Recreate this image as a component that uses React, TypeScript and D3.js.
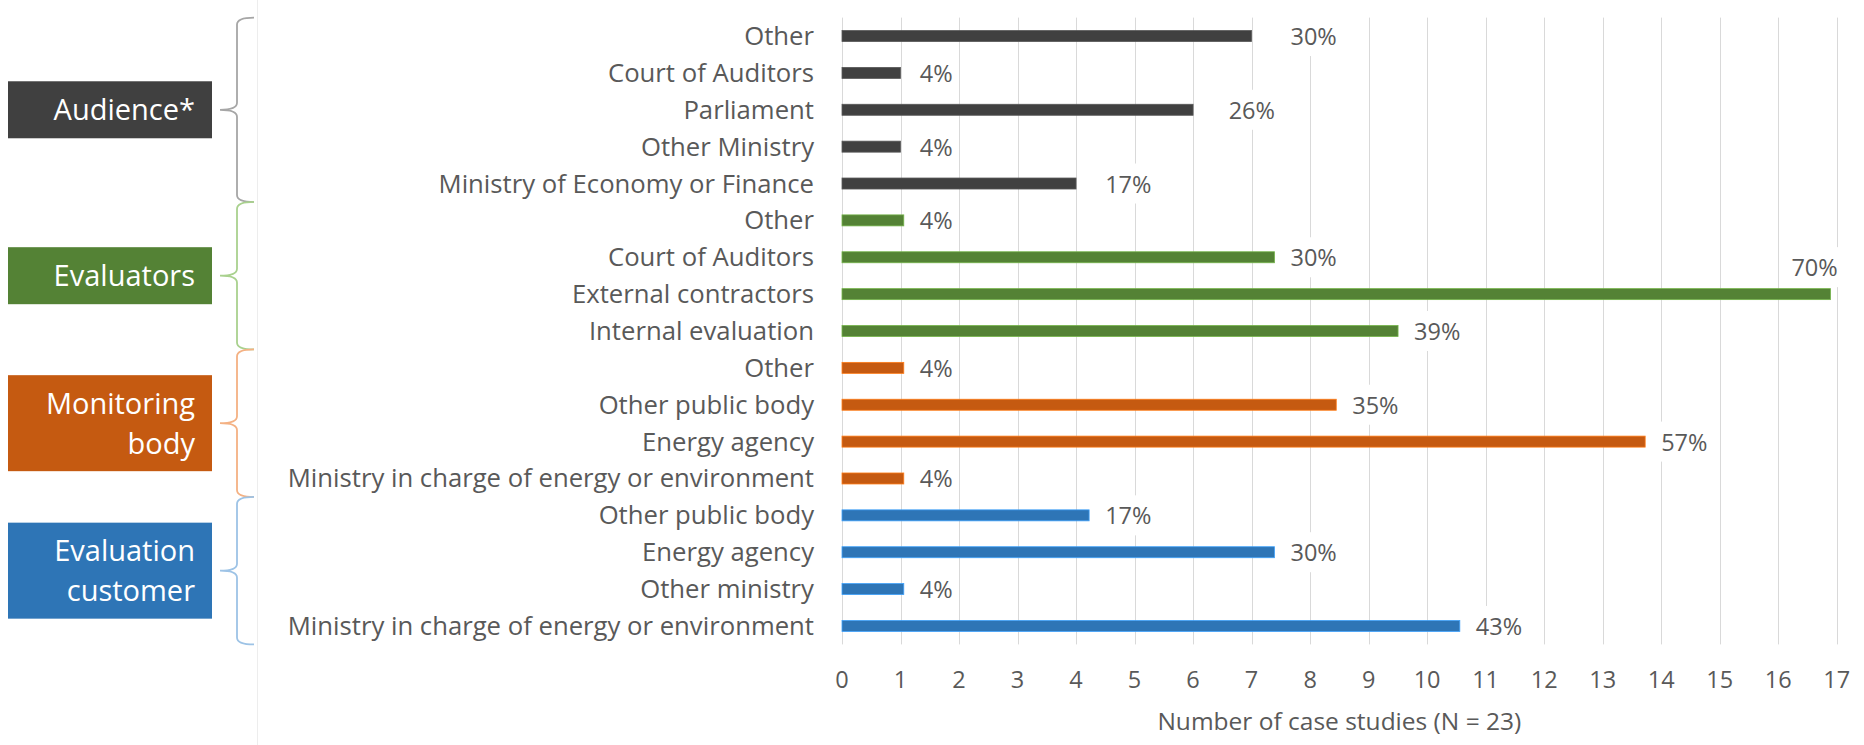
import { useEffect, useRef } from 'react'
import * as d3 from 'd3'

// groups, top to bottom
const groupTitles = [['Audience*'], ['Evaluators'], ['Monitoring', 'body'], ['Evaluation', 'customer']]
const groupColors = ['#404040', '#548235', '#c55a11', '#2e75b6']
const braceColors = ['#a6a6a6', '#a9d18e', '#f4b183', '#9dc3e6']

const audienceLabels = ['Other', 'Court of Auditors', 'Parliament', 'Other Ministry', 'Ministry of Economy or Finance']
const audienceCounts = [7, 1, 6, 1, 4]
const audiencePct = ['30%', '4%', '26%', '4%', '17%']

const evaluatorLabels = ['Other', 'Court of Auditors', 'External contractors', 'Internal evaluation']
const evaluatorCounts = [1, 7, 16, 9]
const evaluatorPct = ['4%', '30%', '70%', '39%']

const monitoringLabels = ['Other', 'Other public body', 'Energy agency', 'Ministry in charge of energy or environment']
const monitoringCounts = [1, 8, 13, 1]
const monitoringPct = ['4%', '35%', '57%', '4%']

const customerLabels = ['Other public body', 'Energy agency', 'Other ministry', 'Ministry in charge of energy or environment']
const customerCounts = [4, 7, 1, 10]
const customerPct = ['17%', '30%', '4%', '43%']

const xMax = 17
// coloured series sit on a secondary axis that is a bit shorter
const xSecondaryMax = 16.1
const axisTitle = 'Number of case studies (N = 23)'

const FONT = "'Open Sans', sans-serif"
const TEXT = '#595959'

export default function App() {
  const svgRef = useRef<SVGSVGElement>(null)

  useEffect(() => {
    if (!svgRef.current) return
    const svg = d3.select(svgRef.current)
    svg.selectAll('*').remove()

    const groups = [
      { labels: audienceLabels, counts: audienceCounts, pct: audiencePct },
      { labels: evaluatorLabels, counts: evaluatorCounts, pct: evaluatorPct },
      { labels: monitoringLabels, counts: monitoringCounts, pct: monitoringPct },
      { labels: customerLabels, counts: customerCounts, pct: customerPct },
    ]
    const rows = groups.flatMap((g, gi) =>
      g.labels.map((label, i) => ({ id: `${gi}-${i}`, gi, label, count: g.counts[i], pct: g.pct[i] }))
    )

    const plot = { left: 842, right: 1836.7, top: 17.6, bottom: 644.4 }

    const x = d3.scaleLinear().domain([0, xMax]).range([plot.left, plot.right])
    const xSec = d3.scaleLinear().domain([0, xSecondaryMax]).range([plot.left, plot.right])
    const y = d3.scaleBand().domain(rows.map(r => r.id)).range([plot.top, plot.bottom])
    const barH = 11

    // chart frame edge
    svg.append('line')
      .attr('x1', 257.5).attr('x2', 257.5).attr('y1', 0).attr('y2', 745)
      .attr('stroke', '#ededed').attr('stroke-width', 1)

    // gridlines
    const ticks = d3.range(0, xMax + 1)
    svg.append('g')
      .selectAll('line')
      .data(ticks)
      .enter().append('line')
      .attr('x1', d => Math.round(x(d)) + 0.5)
      .attr('x2', d => Math.round(x(d)) + 0.5)
      .attr('y1', plot.top)
      .attr('y2', plot.bottom)
      .attr('stroke', '#d9d9d9')
      .attr('stroke-width', 1)

    // tick labels
    svg.append('g')
      .selectAll('text')
      .data(ticks)
      .enter().append('text')
      .attr('x', d => x(d))
      .attr('y', 688)
      .attr('text-anchor', 'middle')
      .style('font-family', FONT)
      .style('font-size', '23.5px')
      .style('fill', TEXT)
      .text(d => d)

    svg.append('text')
      .attr('x', (plot.left + plot.right) / 2)
      .attr('y', 730)
      .attr('text-anchor', 'middle')
      .style('font-family', FONT)
      .style('font-size', '24.5px')
      .style('fill', TEXT)
      .text(axisTitle)

    // category labels
    svg.append('g')
      .selectAll('text')
      .data(rows)
      .enter().append('text')
      .attr('x', 814)
      .attr('y', d => (y(d.id) as number) + y.bandwidth() / 2 + 9)
      .attr('text-anchor', 'end')
      .style('font-family', FONT)
      .style('font-size', '25.7px')
      .style('fill', TEXT)
      .text(d => d.label)

    // bars
    svg.append('g')
      .selectAll('rect')
      .data(rows)
      .enter().append('rect')
      .attr('x', plot.left)
      .attr('y', d => (y(d.id) as number) + y.bandwidth() / 2 - barH / 2)
      .attr('width', d => (d.gi === 0 ? x(d.count) : xSec(d.count)) - plot.left)
      .attr('height', barH)
      .attr('fill', d => groupColors[d.gi])
      .attr('stroke', d => d3.color(groupColors[d.gi])!.brighter(0.9).formatHex())
      .attr('stroke-width', 0.8)

    // percentage labels with white backing
    const lab = svg.append('g')
    rows.forEach(d => {
      const cy = (y(d.id) as number) + y.bandwidth() / 2
      const g = lab.append('g')
      const bg = g.append('rect').attr('fill', '#fff')
      const t = g.append('text')
        .attr('y', cy + 9)
        .style('font-family', FONT)
        .style('font-size', '23.5px')
        .style('fill', TEXT)
        .text(d.pct)
      const tw = (t.node() as SVGTextElement).getComputedTextLength()
      let tx = xSec(d.count) + 16
      let ty = cy
      if (tx + tw > plot.right) {
        // no room at the end: lift it above the bar
        tx = plot.right + 1 - tw
        ty = cy - 27
        t.attr('y', ty + 9)
      }
      t.attr('x', tx)
      bg.attr('x', tx - 6).attr('y', ty - 20).attr('width', tw + 12).attr('height', 40)
    })

    // group boxes and braces
    groups.forEach((g, gi) => {
      const first = `${gi}-0`
      const last = `${gi}-${g.labels.length - 1}`
      const top = y(first) as number
      const bottom = (y(last) as number) + y.bandwidth()
      const mid = (top + bottom) / 2

      const lines = groupTitles[gi]
      const boxH = 18 + 39 * lines.length
      svg.append('rect')
        .attr('x', 8)
        .attr('y', mid - boxH / 2)
        .attr('width', 204)
        .attr('height', boxH)
        .attr('fill', groupColors[gi])

      lines.forEach((line, li) => {
        svg.append('text')
          .attr('x', 195)
          .attr('y', mid - (lines.length - 1) * 20 + li * 40 + 10.5)
          .attr('text-anchor', 'end')
          .style('font-family', FONT)
          .style('font-size', '29px')
          .style('fill', '#fff')
          .text(line)
      })

      const xv = 237
      const xe = 254
      const xt = 220
      const r = 7
      const path = `M${xe},${top} Q${xv},${top} ${xv},${top + r} L${xv},${mid - r} Q${xv},${mid} ${xt},${mid}` +
        ` Q${xv},${mid} ${xv},${mid + r} L${xv},${bottom - r} Q${xv},${bottom} ${xe},${bottom}`
      svg.append('path')
        .attr('d', path)
        .attr('fill', 'none')
        .attr('stroke', braceColors[gi])
        .attr('stroke-width', 1.8)
    })
  }, [])

  return (
    <div style={{ position: 'absolute', left: 0, top: 0 }}>
      <svg ref={svgRef} width={1864} height={745} style={{ display: 'block', background: '#fff' }} />
    </div>
  )
}
